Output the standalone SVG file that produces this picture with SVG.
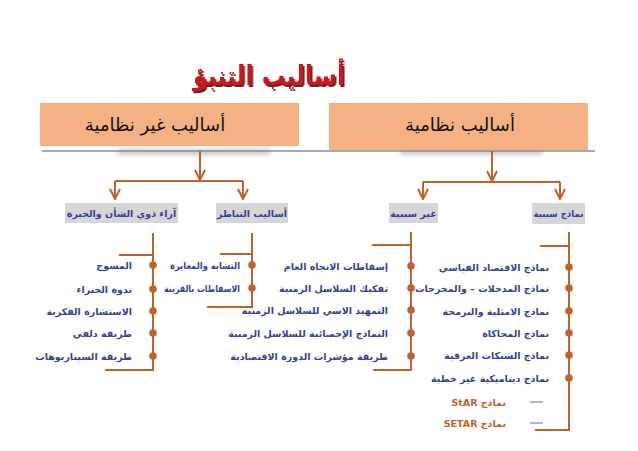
<svg xmlns="http://www.w3.org/2000/svg" width="638" height="451" viewBox="0 0 638 451">
<style>
.ar{font-family:"DejaVu Sans","Noto Sans",sans-serif}
.top{font-size:18px;fill:#111}
.lbl{font-size:9.5px;font-weight:bold;fill:#3a3f96}
.item{font-size:9.5px;font-weight:bold;fill:#3a3f96}
.star{font-size:9.5px;font-weight:bold;fill:#c0622b}
.ln{stroke:#c0622b;stroke-width:2;fill:none}
.dot{fill:#c0622b}
.orange{fill:#f4b183}
.grey{fill:#d6d6d6}
</style>
<defs>
<marker id="v" viewBox="0 0 12 12" refX="11" refY="6" markerWidth="12" markerHeight="12" markerUnits="userSpaceOnUse" orient="auto">
<path d="M1,1 L11,6 L1,11" fill="none" stroke="#c0622b" stroke-width="2"/>
</marker>
<filter id="blur" x="-20%" y="-100%" width="140%" height="300%"><feGaussianBlur stdDeviation="2"/></filter>
<filter id="tshadow" x="-10%" y="-30%" width="120%" height="160%"><feDropShadow dx="1.5" dy="2" stdDeviation="0.6" flood-color="#4a0c0c" flood-opacity="0.9"/></filter>
</defs>
<rect width="638" height="451" fill="#fff"/>

<g id="title">
<text class="ar" x="269" y="85" text-anchor="middle" font-size="27" font-weight="bold" fill="#d0161c" textLength="152" lengthAdjust="spacingAndGlyphs" filter="url(#tshadow)">أساليب التنبؤ</text>
</g>

<g id="shadows">
<rect x="118" y="149" width="152" height="6" fill="#999" opacity="0.5" filter="url(#blur)"/>
<rect x="400" y="149" width="142" height="6" fill="#999" opacity="0.5" filter="url(#blur)"/>
</g>

<g id="node-nonsystematic">
<rect class="orange" x="40" y="103" width="259" height="43"/>
<text class="ar top" x="155" y="131" text-anchor="middle">أساليب غير نظامية</text>
</g>
<g id="node-systematic">
<rect class="orange" x="329" y="103" width="259" height="47"/>
<text class="ar top" x="460" y="131" text-anchor="middle">أساليب نظامية</text>
</g>

<line x1="42" y1="151" x2="595" y2="151" stroke="#8c8c8c" stroke-width="1.5"/>

<g id="connectors">
<path class="ln" d="M200,151 V180" marker-end="url(#v)"/>
<path class="ln" d="M115,181 H243"/>
<path class="ln" d="M115,181 V199" marker-end="url(#v)"/>
<path class="ln" d="M243,181 V199" marker-end="url(#v)"/>
<path class="ln" d="M492,151 V181" marker-end="url(#v)"/>
<path class="ln" d="M423,182 H560"/>
<path class="ln" d="M423,182 V199" marker-end="url(#v)"/>
<path class="ln" d="M560,182 V199" marker-end="url(#v)"/>

<path class="ln" d="M153,233 V370 H105 M119,255 H153"/>
<path class="ln" d="M252,233 V307 H207 M220,254 H252"/>
<path class="ln" d="M411,232 V370 H373 M372,245 H411"/>
<path class="ln" d="M569,232 V430 H535 M540,246 H569"/>

<circle class="dot" cx="153" cy="265" r="3.8"/>
<circle class="dot" cx="153" cy="289" r="3.8"/>
<circle class="dot" cx="153" cy="311" r="3.8"/>
<circle class="dot" cx="153" cy="333" r="3.8"/>
<circle class="dot" cx="153" cy="356" r="3.8"/>
<circle class="dot" cx="252" cy="265" r="3.8"/>
<circle class="dot" cx="252" cy="288" r="3.8"/>
<circle class="dot" cx="411" cy="266" r="3.8"/>
<circle class="dot" cx="411" cy="288" r="3.8"/>
<circle class="dot" cx="411" cy="310" r="3.8"/>
<circle class="dot" cx="411" cy="333" r="3.8"/>
<circle class="dot" cx="411" cy="356" r="3.8"/>
<circle class="dot" cx="569" cy="267" r="3.8"/>
<circle class="dot" cx="569" cy="288" r="3.8"/>
<circle class="dot" cx="569" cy="311" r="3.8"/>
<circle class="dot" cx="569" cy="333" r="3.8"/>
<circle class="dot" cx="569" cy="355" r="3.8"/>
<circle class="dot" cx="569" cy="378" r="3.8"/>
<path d="M530,402 H543 M530,423 H543" stroke="#a0a0a0" stroke-width="1.5"/>
</g>

<g id="node-experts">
<rect class="grey" x="65" y="203" width="113" height="20"/>
<text class="ar lbl" x="121.5" y="217" text-anchor="middle">آراء ذوي الشأن والخبرة</text>
</g>
<g id="node-analogy">
<rect class="grey" x="216" y="203" width="72" height="20"/>
<text class="ar lbl" x="252" y="217" text-anchor="middle">أساليب التناظر</text>
</g>
<g id="node-noncausal">
<rect class="grey" x="389" y="203" width="49" height="20"/>
<text class="ar lbl" x="413.5" y="217" text-anchor="middle">غير سببية</text>
</g>
<g id="node-causal">
<rect class="grey" x="532" y="203" width="53" height="21"/>
<text class="ar lbl" x="558.5" y="217" text-anchor="middle" textLength="50" lengthAdjust="spacingAndGlyphs">نماذج سببية</text>
</g>

<g id="list-experts">
<text class="ar item" x="132" y="269" text-anchor="end">المسوح</text>
<text class="ar item" x="132" y="293" text-anchor="end">ندوة الخبراء</text>
<text class="ar item" x="132" y="315" text-anchor="end">الاستشارة الفكرية</text>
<text class="ar item" x="132" y="337" text-anchor="end">طريقة دلفي</text>
<text class="ar item" x="132" y="360" text-anchor="end">طريقة السيناريوهات</text>
</g>
<g id="list-analogy">
<text class="ar item" x="240" y="269" text-anchor="end" textLength="70" lengthAdjust="spacingAndGlyphs">التشابه والمغايرة</text>
<text class="ar item" x="240" y="292" text-anchor="end" textLength="76" lengthAdjust="spacingAndGlyphs">الاسقاطات بالقرينة</text>
</g>
<g id="list-noncausal">
<text class="ar item" x="388" y="270" text-anchor="end">إسقاطات الاتجاه العام</text>
<text class="ar item" x="388" y="292" text-anchor="end">تفكيك السلاسل الزمنية</text>
<text class="ar item" x="388" y="314" text-anchor="end">التمهيد الاسي للسلاسل الزمنية</text>
<text class="ar item" x="388" y="337" text-anchor="end">النماذج الإحصائية للسلاسل الزمنية</text>
<text class="ar item" x="388" y="360" text-anchor="end">طريقة مؤشرات الدورة الاقتصادية</text>
</g>
<g id="list-causal">
<text class="ar item" x="549" y="271" text-anchor="end">نماذج الاقتصاد القياسي</text>
<text class="ar item" x="549" y="292" text-anchor="end">نماذج المدخلات – والمخرجات</text>
<text class="ar item" x="549" y="315" text-anchor="end">نماذج الامثلية والبرمجة</text>
<text class="ar item" x="549" y="337" text-anchor="end">نماذج المحاكاة</text>
<text class="ar item" x="549" y="359" text-anchor="end">نماذج الشبكات العرقية</text>
<text class="ar item" x="549" y="382" text-anchor="end">نماذج ديناميكية غير خطية</text>
<text class="ar star" x="506" y="406" direction="rtl" text-anchor="start">نماذج StAR</text>
<text class="ar star" x="506" y="427" direction="rtl" text-anchor="start">نماذج SETAR</text>
</g>
</svg>
